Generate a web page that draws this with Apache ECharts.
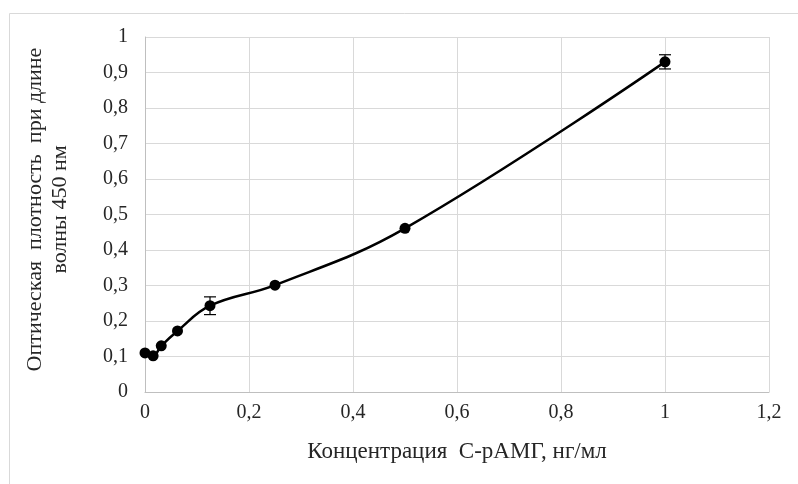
<!DOCTYPE html>
<html lang="ru">
<head>
<meta charset="UTF-8">
<title>Калибровочная кривая</title>
<script src="https://cdn.jsdelivr.net/npm/echarts@6/dist/echarts.min.js"></script>
<style>
  html, body { margin: 0; padding: 0; background: #fff; }
</style>
</head>
<body>
<div id="chart" style="width: 798px; height: 484px;"></div>
<script>
  // концентрации, нг/мл
  var conc = [0, 0.015625, 0.03125, 0.0625, 0.125, 0.25, 0.5, 1];
  // оптическая плотность
  var od = [0.11, 0.102, 0.13, 0.172, 0.243, 0.301, 0.461, 0.93];
  // погрешности (мелкие прячутся под маркером)
  var err = [0, 0, 0, 0, 0.025, 0, 0, 0.02];

  var fmt = function (v) { return String(+v.toFixed(1)).replace('.', ','); };
  var font = '"Liberation Serif", "Times New Roman", serif';

  var points = conc.map(function (x, i) { return [x, od[i]]; });
  var bars = [];
  conc.forEach(function (x, i) {
    if (err[i] > 0) bars.push([x, od[i] - err[i], od[i] + err[i]]);
  });

  var option = {
    animation: false,
    grid: { left: 145, right: 29, top: 37, bottom: 92 },
    graphic: [{
      type: 'rect',
      shape: { x: 9.5, y: 13.5, width: 800, height: 480 },
      style: { fill: 'none', stroke: '#d9d9d9', lineWidth: 1 }
    }],
    xAxis: {
      type: 'value', min: 0, max: 1.2, interval: 0.2,
      name: 'Концентрация  С-рАМГ, нг/мл',
      nameLocation: 'middle', nameGap: 48,
      nameTextStyle: { fontFamily: font, fontSize: 23, color: '#262626' },
      axisLine: { show: true, lineStyle: { color: '#bfbfbf' } },
      axisTick: { show: false },
      axisLabel: { formatter: fmt, fontFamily: font, fontSize: 20, color: '#262626', margin: 11 },
      splitLine: { show: true, lineStyle: { color: '#d9d9d9' } }
    },
    yAxis: {
      type: 'value', min: 0, max: 1, interval: 0.1,
      name: 'Оптическая  плотность  при длине\nволны 450 нм',
      nameLocation: 'middle', nameGap: 72, nameRotate: 90,
      nameTextStyle: { fontFamily: font, fontSize: 22, color: '#262626', lineHeight: 25, padding: [0, 0, 0, 10] },
      axisLine: { show: true, lineStyle: { color: '#bfbfbf' } },
      axisTick: { show: false },
      axisLabel: { formatter: fmt, fontFamily: font, fontSize: 20, color: '#262626', margin: 17 },
      splitLine: { show: true, lineStyle: { color: '#d9d9d9' } }
    },
    series: [
      {
        type: 'line',
        data: points,
        smooth: 0.4,
        symbol: 'circle',
        symbolSize: 11,
        lineStyle: { color: '#000', width: 2.5 },
        itemStyle: { color: '#000' },
        z: 3
      },
      {
        type: 'custom',
        data: bars,
        renderItem: function (params, api) {
          var x = api.value(0);
          var lo = api.coord([x, api.value(1)]);
          var hi = api.coord([x, api.value(2)]);
          var w = 6;
          var st = { stroke: '#000', lineWidth: 1.2 };
          return {
            type: 'group',
            children: [
              { type: 'line', shape: { x1: lo[0], y1: lo[1], x2: hi[0], y2: hi[1] }, style: st },
              { type: 'line', shape: { x1: lo[0] - w, y1: lo[1], x2: lo[0] + w, y2: lo[1] }, style: st },
              { type: 'line', shape: { x1: hi[0] - w, y1: hi[1], x2: hi[0] + w, y2: hi[1] }, style: st }
            ]
          };
        },
        z: 2
      }
    ]
  };

  var chart = echarts.init(document.getElementById('chart'));
  chart.setOption(option);
</script>
</body>
</html>
